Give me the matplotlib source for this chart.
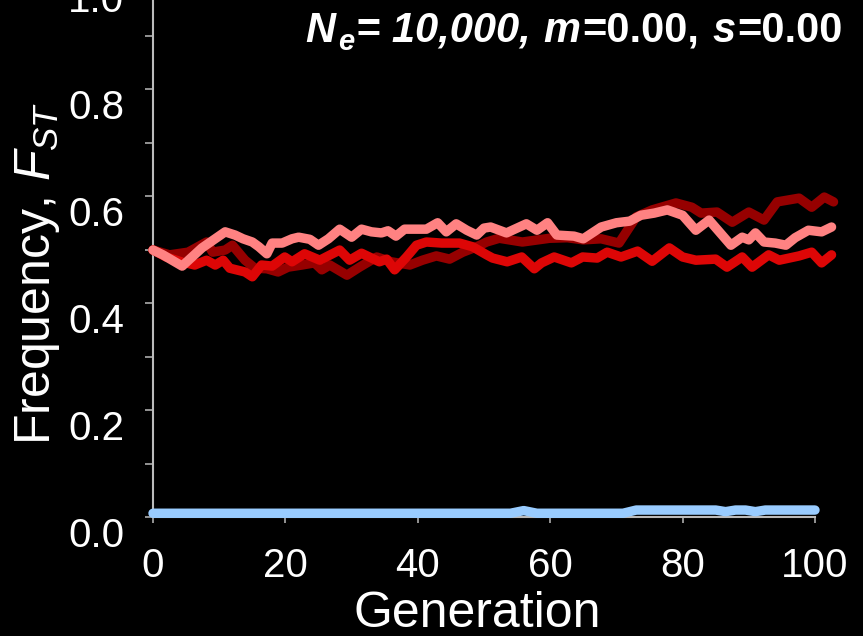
import matplotlib.pyplot as plt
from matplotlib.ticker import MultipleLocator

plt.rcParams['font.family'] = 'Liberation Sans'
plt.rcParams['mathtext.fontset'] = 'custom'
plt.rcParams['mathtext.rm'] = 'Liberation Sans'
plt.rcParams['mathtext.it'] = 'Liberation Sans:italic'

# values (generation, F_ST)
pink_gen = [0, 1.5, 4.4, 7.4, 10.9, 12.4, 13.6, 15, 16, 17.2, 18, 19.5, 21, 22, 23.7,
            25, 26.5, 28.2, 30, 31.5, 33, 34.5, 35.5, 36.7, 38, 41.3, 43, 44.3, 45.8,
            47.4, 48.9, 50, 51, 53.4, 56.4, 58, 59.6, 61, 63.6, 65, 67.7, 70, 72, 73.7,
            75.7, 77.7, 80, 82, 84, 87.3, 89, 90, 91, 92.3, 94, 95.6, 97, 99, 101, 102.5]
pink_val = [0.499, 0.490, 0.469, 0.503, 0.533, 0.527, 0.520, 0.514, 0.505, 0.492, 0.512,
            0.512, 0.520, 0.523, 0.519, 0.508, 0.520, 0.538, 0.523, 0.538, 0.533, 0.531,
            0.535, 0.525, 0.538, 0.538, 0.550, 0.533, 0.548, 0.536, 0.527, 0.540, 0.542,
            0.531, 0.548, 0.536, 0.550, 0.527, 0.525, 0.520, 0.542, 0.550, 0.553, 0.564,
            0.568, 0.574, 0.564, 0.536, 0.555, 0.508, 0.523, 0.518, 0.531, 0.514, 0.512,
            0.508, 0.522, 0.536, 0.533, 0.542]

red_gen = [0, 2, 4, 6.3, 8.1, 9.4, 10.6, 11.6, 13.9, 15, 16.4, 18, 19.9, 21, 22.9, 25.2,
           28.2, 29.7, 31.5, 34.2, 35.3, 36.5, 38.3, 39.8, 41.3, 43.6, 46.3, 48.3, 50.4,
           51.3, 53.5, 55.7, 57.6, 58.7, 60.6, 63.2, 64.9, 67.1, 68.6, 70.7, 73.2, 75.4,
           78, 80, 82, 85, 86.7, 89, 90.5, 93, 94.6, 97.6, 99.5, 101, 102.5]
red_val = [0.499, 0.486, 0.478, 0.471, 0.480, 0.471, 0.480, 0.465, 0.458, 0.449, 0.471,
           0.469, 0.486, 0.477, 0.492, 0.480, 0.499, 0.480, 0.493, 0.477, 0.482, 0.462,
           0.486, 0.508, 0.514, 0.512, 0.512, 0.505, 0.490, 0.484, 0.477, 0.486, 0.464,
           0.475, 0.486, 0.475, 0.486, 0.484, 0.495, 0.486, 0.497, 0.478, 0.503, 0.486,
           0.480, 0.482, 0.467, 0.486, 0.467, 0.490, 0.480, 0.488, 0.495, 0.475, 0.490]

dark_gen = [0, 2.5, 5.3, 8.1, 9, 10.9, 12, 13.9, 15.4, 17.2, 18.9, 20.4, 22.5, 24.4, 25.5,
            26.7, 29.3, 31.2, 33.8, 36, 38.8, 40.7, 42.8, 44.8, 46.8, 48.9, 50.4, 52.3,
            55.8, 59.9, 62.6, 65, 67.7, 70.4, 73, 75.4, 79, 81.4, 82.8, 85.2, 87.5, 90,
            92.3, 94.3, 97.6, 99.5, 101.4, 102.8]
dark_val = [0.499, 0.490, 0.495, 0.514, 0.495, 0.499, 0.508, 0.480, 0.465, 0.464, 0.458,
            0.467, 0.471, 0.475, 0.462, 0.471, 0.452, 0.467, 0.486, 0.477, 0.471, 0.480,
            0.488, 0.482, 0.495, 0.505, 0.514, 0.521, 0.514, 0.521, 0.522, 0.518, 0.520,
            0.512, 0.561, 0.574, 0.587, 0.579, 0.568, 0.570, 0.551, 0.570, 0.555, 0.589,
            0.596, 0.579, 0.598, 0.589]

blue_gen = [0, 20, 40, 54, 56, 58, 71, 73, 80, 85, 86.5, 88, 89.5, 91, 92.5, 100]
blue_val = [0.007, 0.007, 0.007, 0.007, 0.012, 0.007, 0.007, 0.013, 0.013, 0.013, 0.010,
            0.013, 0.013, 0.010, 0.013, 0.013]

x_ticks = [0, 20, 40, 60, 80, 100]
x_labels = ['0', '20', '40', '60', '80', '100']
y_ticks = [0.0, 0.2, 0.4, 0.6, 0.8, 1.0]
y_labels = ['0.0', '0.2', '0.4', '0.6', '0.8', '1.0']

W, H = 863, 636
fig = plt.figure(figsize=(W / 100, H / 100), dpi=100, facecolor='black')
ax = fig.add_axes([153 / W, 119 / H, 662 / W, 535 / H])
ax.set_facecolor('black')

kw = dict(lw=6.8, solid_joinstyle='round', solid_capstyle='round', clip_on=False)
ax.plot(dark_gen, dark_val, color='#960000', zorder=3, **kw)
ax.plot(red_gen, red_val, color='#DD0606', zorder=4, **kw)
ax.plot(pink_gen, pink_val, color='#FF8282', zorder=5, **kw)
ax.plot(blue_gen, blue_val, color='#99CCFF', zorder=6, **kw)

ax.set_xlim(0, 100)
ax.set_ylim(0, 1)
for side in ['top', 'right']:
    ax.spines[side].set_visible(False)
for side in ['left', 'bottom']:
    ax.spines[side].set_color('#BBBBBB')
    ax.spines[side].set_linewidth(1.5)

ax.set_xticks(x_ticks)
ax.set_xticklabels(x_labels)
ax.set_yticks(y_ticks)
ax.set_yticklabels(y_labels)
ax.yaxis.set_minor_locator(MultipleLocator(0.1))
ax.tick_params(axis='y', which='both', direction='out', length=5.8, width=1.1,
               color='#BBBBBB', labelcolor='white', labelsize=29, pad=15)
ax.tick_params(axis='x', direction='out', length=4.5, width=1.1,
               color='#BBBBBB', labelcolor='white', labelsize=29, pad=17)
for t in ax.get_yticklabels():
    t.set_verticalalignment('top')

fig.text(477 / W, 9 / H, 'Generation', ha='center', va='baseline',
         fontsize=36, color='white')
fig.text(38 / W, 191 / H, 'Frequency, $F_{ST}$', rotation=90, ha='center',
         va='bottom', fontsize=36, color='white')

# title built from pieces so italic / upright parts can be mixed
parts = [('N', 'italic', 30, 0, 0), ('e', 'italic', 21, -8, 0),
         ('= 10,000,', 'italic', 30, 0, 11), ('m', 'italic', 30, 0, 0),
         ('=0.00,', 'normal', 30, 0, 11), ('s', 'italic', 30, 0, 0),
         ('=0.00', 'normal', 30, 0, 0)]
renderer = fig.canvas.get_renderer()
texts = []
total = 0
for s, style, size, dy, gap in parts:
    t = fig.text(0, 0, s, fontsize=size, fontstyle=style, fontweight='bold',
                 color='white', va='baseline', ha='left')
    w = t.get_window_extent(renderer).width
    texts.append((t, total, dy))
    total += w + 2 + gap
x0 = 845 - total
for t, off, dy in texts:
    t.set_position(((x0 + off) / W, (H - 42 + dy) / H))

fig.savefig('out.png', dpi=100, facecolor='black')
